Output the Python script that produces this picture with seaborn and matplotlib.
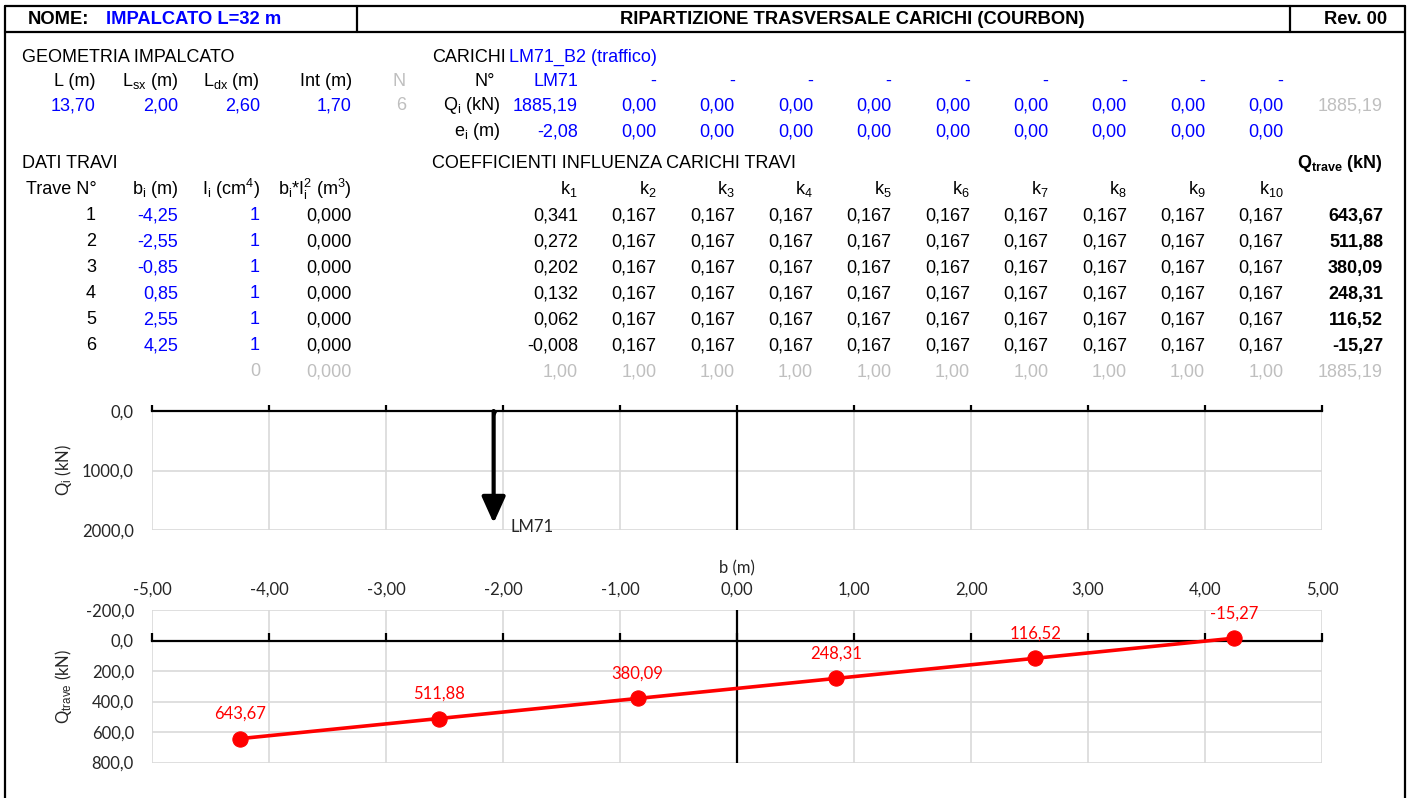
"""
Ripartizione trasversale carichi (Courbon) - scheda impalcato
"""

import numpy as np
import pandas as pd
import matplotlib
matplotlib.use("Agg")
import matplotlib.pyplot as plt
import matplotlib.ticker as mticker
import seaborn as sns

# ── Dati ─────────────────────────────────────────────────────────────────────
nome_impalcato = "IMPALCATO L=32 m"
titolo = "RIPARTIZIONE TRASVERSALE CARICHI (COURBON)"
revisione = "Rev. 00"
nome_carichi = "LM71_B2 (traffico)"

geom_labels = ["L (m)", "L$_\\mathrm{sx}$ (m)", "L$_\\mathrm{dx}$ (m)", "Int (m)"]
geom_values = [13.70, 2.00, 2.60, 1.70]
n_travi = 6

load_names = ["LM71", "-", "-", "-", "-", "-", "-", "-", "-", "-"]
load_Q = [1885.19, 0.00, 0.00, 0.00, 0.00, 0.00, 0.00, 0.00, 0.00, 0.00]
load_e = [-2.08, 0.00, 0.00, 0.00, 0.00, 0.00, 0.00, 0.00, 0.00, 0.00]
load_Q_tot = 1885.19

trave_n = [1, 2, 3, 4, 5, 6]
trave_b = [-4.25, -2.55, -0.85, 0.85, 2.55, 4.25]
trave_I = [1, 1, 1, 1, 1, 1]
trave_bI2 = [0.000, 0.000, 0.000, 0.000, 0.000, 0.000]

k_matrix = [
    [0.341, 0.167, 0.167, 0.167, 0.167, 0.167, 0.167, 0.167, 0.167, 0.167],
    [0.272, 0.167, 0.167, 0.167, 0.167, 0.167, 0.167, 0.167, 0.167, 0.167],
    [0.202, 0.167, 0.167, 0.167, 0.167, 0.167, 0.167, 0.167, 0.167, 0.167],
    [0.132, 0.167, 0.167, 0.167, 0.167, 0.167, 0.167, 0.167, 0.167, 0.167],
    [0.062, 0.167, 0.167, 0.167, 0.167, 0.167, 0.167, 0.167, 0.167, 0.167],
    [-0.008, 0.167, 0.167, 0.167, 0.167, 0.167, 0.167, 0.167, 0.167, 0.167],
]
k_sums = [1.00, 1.00, 1.00, 1.00, 1.00, 1.00, 1.00, 1.00, 1.00, 1.00]
q_trave = [643.67, 511.88, 380.09, 248.31, 116.52, -15.27]

# ── Stile ────────────────────────────────────────────────────────────────────
sns.set_style("white")
plt.rcParams.update({
    "font.family": ["Liberation Sans", "DejaVu Sans"],
    "mathtext.fontset": "custom",
    "mathtext.rm": "Liberation Sans",
    "mathtext.it": "Liberation Sans:italic",
    "mathtext.bf": "Liberation Sans:bold",
})

BLUE = "#0000FF"
GREY = "#BFBFBF"
GRID = "#D9D9D9"
RED = "#FF0000"
FS = 13.0
HFS = 13.2
CHART_FONT = "Lato"
CFS = 12

W, H = 1413, 798


def num(v, d=2):
    return f"{v:.{d}f}".replace(".", ",")


fig = plt.figure(figsize=(W / 100, H / 100), dpi=100)

# ── Tabella (coordinate in pixel) ───────────────────────────────────────────
bg = fig.add_axes([0, 0, 1, 1])
bg.set_xlim(0, W)
bg.set_ylim(H, 0)
bg.axis("off")


def txt(x, y, s, ha="right", color="black", weight="normal", size=FS):
    bg.text(x, y, s, ha=ha, va="center", color=color, fontweight=weight, fontsize=size)


# cornice
lw = 1.6
bg.plot([5, 5], [H + 5, 6], color="black", lw=lw)
bg.plot([1405, 1405], [H + 5, 6], color="black", lw=lw)
bg.plot([5, 1405], [6, 6], color="black", lw=lw)
bg.plot([5, 1405], [32, 32], color="black", lw=lw)
bg.plot([357, 357], [6, 32], color="black", lw=lw)
bg.plot([1290, 1290], [6, 32], color="black", lw=lw)

txt(28, 19, "NOME:", ha="left", weight="bold", size=HFS)
txt(106, 19, nome_impalcato, ha="left", color=BLUE, weight="bold", size=HFS)
txt(852, 19, titolo, ha="center", weight="bold", size=HFS)
txt(1387, 19, revisione, weight="bold", size=HFS)

# geometria
geo_x = [96, 178, 260, 352]
txt(22, 57, "GEOMETRIA IMPALCATO", ha="left")
for x, lab, val in zip(geo_x, geom_labels, geom_values):
    txt(x, 81, lab)
    txt(x, 106, num(val), color=BLUE)
txt(406, 81, "N", color=GREY)
txt(406, 106, str(n_travi), color=GREY)

# carichi
k_x = [578 + i * 78.4 for i in range(10)]
txt(432, 57, "CARICHI", ha="left")
txt(509, 57, nome_carichi, ha="left", color=BLUE)
txt(495, 81, "N°")
txt(500, 106, "Q$_\\mathrm{i}$ (kN)")
txt(500, 132, "e$_\\mathrm{i}$ (m)")
for x, n, q, e in zip(k_x, load_names, load_Q, load_e):
    txt(x, 81, n, color=BLUE)
    txt(x, 106, num(q), color=BLUE)
    txt(x, 132, num(e), color=BLUE)
txt(1383, 106, num(load_Q_tot), color=GREY)

# dati travi
row_y = [216, 242, 268, 294, 320, 346]
txt(22, 164, "DATI TRAVI", ha="left")
txt(97, 189, "Trave N°")
txt(178, 189, "b$_\\mathrm{i}$ (m)")
txt(260, 189, "I$_\\mathrm{i}$ (cm$^\\mathrm{4}$)")
txt(352, 189, "b$_\\mathrm{i}$*I$_\\mathrm{i}^\\mathrm{2}$ (m$^\\mathrm{3}$)")
txt(432, 164, "COEFFICIENTI INFLUENZA CARICHI TRAVI", ha="left")
txt(1383, 164, "Q$_\\mathbf{trave}$ (kN)", weight="bold")
for i, x in enumerate(k_x):
    txt(x, 189, f"k$_\\mathrm{{{i + 1}}}$")

for y, n, b, I, bi2, krow, q in zip(row_y, trave_n, trave_b, trave_I, trave_bI2, k_matrix, q_trave):
    txt(96, y, str(n))
    txt(178, y, num(b), color=BLUE)
    txt(260, y, str(I), color=BLUE)
    txt(352, y, num(bi2, 3))
    for x, k in zip(k_x, krow):
        txt(x, y, num(k, 3))
    txt(1383, y, num(q), weight="bold")

# riga somme
txt(260, 372, "0", color=GREY)
txt(352, 372, num(0.0, 3), color=GREY)
for x, s in zip(k_x, k_sums):
    txt(x, 372, num(s), color=GREY)
txt(1383, 372, num(load_Q_tot), color=GREY)

# ── Grafico carichi ─────────────────────────────────────────────────────────
fmt1 = mticker.FuncFormatter(lambda v, _: num(v, 1))
fmt2 = mticker.FuncFormatter(lambda v, _: num(v, 2))

ax1 = fig.add_axes([152 / W, 1 - 530 / H, 1170 / W, 119 / H])
ax1.set_xlim(-5, 5)
ax1.set_ylim(2000, 0)
ax1.set_xticks(np.arange(-5, 6))
ax1.set_yticks([0, 1000, 2000])
ax1.yaxis.set_major_formatter(fmt1)
ax1.grid(True, color=GRID, lw=1.2)
for s in ["left", "right", "bottom"]:
    ax1.spines[s].set_visible(False)
ax1.spines["top"].set_color("black")
ax1.spines["top"].set_linewidth(1.6)
ax1.tick_params(axis="x", top=True, bottom=False, labeltop=False, labelbottom=False,
                direction="out", length=4, width=1.6, color="black")
ax1.tick_params(axis="y", left=False, length=0, pad=13, labelsize=CFS,
                labelfontfamily=CHART_FONT)
ax1.axvline(0, color="black", lw=1.6, zorder=2)

for n, q, e in zip(load_names, load_Q, load_e):
    if q <= 0:
        continue
    ax1.annotate("", xy=(e, q), xytext=(e, 0),
                 arrowprops=dict(arrowstyle="-|>,head_length=0.8,head_width=0.36",
                                 mutation_scale=20, lw=3, color="black",
                                 shrinkA=0, shrinkB=0), zorder=4)
    ax1.plot(e, 0, marker="v", ms=6, color="black", zorder=4)
    ax1.annotate(n, xy=(e, q), xytext=(12, -3), textcoords="offset points",
                 ha="left", va="center", fontsize=CFS, family=CHART_FONT)

ax1.set_ylabel("Q$_\\mathrm{i}$ (kN)", fontsize=CFS, family=CHART_FONT)
ax1.yaxis.set_label_coords((74 - 152) / 1170, 0.5)

# ── Grafico carichi travi ───────────────────────────────────────────────────
df = pd.DataFrame({"b": trave_b, "Q": q_trave})

ax2 = fig.add_axes([152 / W, 1 - 762.5 / H, 1170 / W, 152.5 / H])
sns.lineplot(data=df, x="b", y="Q", ax=ax2, color=RED, lw=2.6, marker="o",
             markersize=11, markeredgecolor=RED, zorder=5)
ax2.set_xlim(-5, 5)
ax2.set_ylim(800, -200)
ax2.set_xticks(np.arange(-5, 6))
ax2.set_yticks(np.arange(-200, 801, 200))
ax2.xaxis.set_major_formatter(fmt2)
ax2.yaxis.set_major_formatter(fmt1)
ax2.grid(True, color=GRID, lw=1.2)
for s in ["left", "right", "top"]:
    ax2.spines[s].set_visible(False)
ax2.spines["bottom"].set_position(("data", 0))
ax2.spines["bottom"].set_color("black")
ax2.spines["bottom"].set_linewidth(1.6)
ax2.tick_params(axis="x", bottom=True, top=False, labelbottom=False, labeltop=True,
                direction="in", length=6, width=1.6, color="black", pad=9,
                labelsize=CFS, labelfontfamily=CHART_FONT)
ax2.tick_params(axis="y", left=False, length=0, pad=13, labelsize=CFS,
                labelfontfamily=CHART_FONT)
ax2.axvline(0, color="black", lw=1.6, zorder=2)

for b, q in zip(trave_b, q_trave):
    ax2.annotate(num(q), xy=(b, q), xytext=(0, 18), textcoords="offset points",
                 ha="center", va="center", color=RED, fontsize=CFS, family=CHART_FONT)

ax2.xaxis.set_label_position("top")
ax2.set_xlabel("b (m)", fontsize=CFS, family=CHART_FONT, labelpad=6)
ax2.set_ylabel("Q$_\\mathrm{trave}$ (kN)", fontsize=CFS, family=CHART_FONT)
ax2.yaxis.set_label_coords((74 - 152) / 1170, 0.5)

fig.savefig("out.png", dpi=100)
